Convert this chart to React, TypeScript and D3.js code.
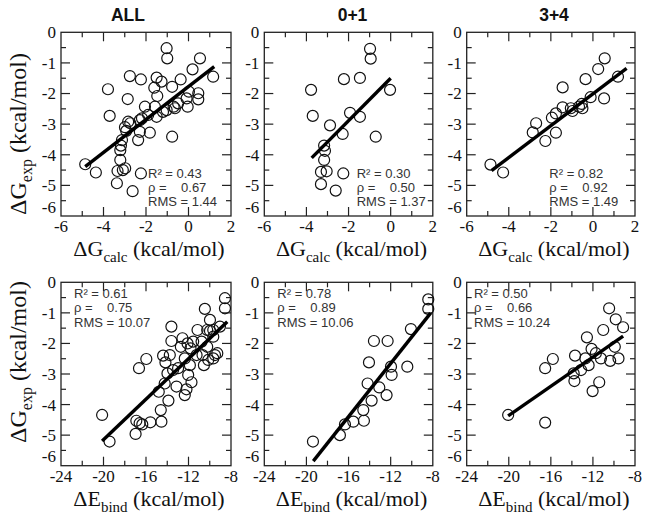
import React from 'react';
import * as d3 from 'd3';

// ---------- data ----------
const panelTitles = ['ALL', '0+1', '3+4'];

// Top row: ΔG_calc vs ΔG_exp
const topAllCalc = [-4.86, -4.36, -3.79, -3.71, -3.37, -3.34, -3.09, -2.98, -3.21, -3.21, -3.18, -3.13, -2.93, -2.99, -2.84, -2.63, -2.24, -2.29, -2.37, -1.82, -0.77, -2.76, -2.24, -2.86, -2.29, -2.05, -1.9, -1.5, -1.58, -1.03, -0.64, -0.49, -0.04, -0.09, 0.46, 0.46, 0.02, -0.77, -0.37, -1.47, -1.61, -1.27, -1.5, -1.03, -1.0, 0.54, 0.19, 1.16, -2.74, -2.19, -1.2, -0.7];
const topAllExp = [-4.31, -4.58, -1.86, -2.73, -4.93, -4.53, -4.5, -4.44, -4.17, -3.85, -3.7, -3.52, -3.22, -3.1, -2.92, -5.19, -4.61, -3.25, -3.52, -3.28, -3.41, -1.43, -1.54, -2.18, -2.87, -2.43, -2.7, -2.76, -2.43, -2.54, -2.48, -2.32, -2.43, -2.16, -2.19, -1.99, -1.94, -1.78, -1.54, -2.08, -1.81, -1.61, -1.48, -0.52, -0.85, -0.85, -1.21, -1.45, -2.97, -2.81, -2.6, -2.43];

const top01Calc = [-0.98, -0.95, -2.22, -1.46, -0.03, -3.78, -3.7, -1.93, -1.46, -2.88, -2.28, -0.71, -3.16, -3.12, -3.16, -3.31, -3.04, -2.25, -3.31, -2.61];
const top01Exp = [-0.54, -0.86, -1.53, -1.49, -1.88, -1.88, -2.73, -2.63, -2.76, -3.04, -3.32, -3.41, -3.7, -3.87, -4.17, -4.56, -4.54, -4.61, -4.96, -5.17];

const top34Calc = [-4.87, -4.27, -2.86, -2.7, -2.26, -1.76, -1.95, -1.76, -1.44, -1.44, -1.05, -0.97, -0.66, -0.5, -0.53, -0.35, -0.11, 0.25, 0.56, 1.19, 0.53];
const top34Exp = [-4.32, -4.58, -3.27, -2.97, -3.55, -3.28, -2.79, -2.65, -1.8, -2.45, -2.48, -2.57, -2.43, -2.48, -2.34, -1.53, -2.12, -1.2, -0.85, -1.45, -2.16];

// Bottom row: ΔE_bind vs ΔG_exp
const botAllBind = [-20.13, -19.43, -16.91, -16.98, -16.6, -16.35, -15.59, -16.66, -15.97, -14.55, -14.61, -14.8, -13.89, -14.24, -14.39, -14.17, -13.61, -13.61, -13.76, -13.98, -13.45, -13.13, -12.98, -12.57, -12.72, -12.35, -12.35, -12.19, -12.03, -11.72, -12.09, -11.81, -11.56, -11.87, -11.24, -11.15, -10.68, -10.55, -10.46, -9.98, -10.24, -9.98, -9.67, -9.67, -10.24, -9.51, -9.29, -9.67, -10.77, -10.14, -8.57, -8.57, -9.04];
const botAllExp = [-4.34, -5.21, -4.53, -4.96, -4.61, -4.65, -4.58, -2.81, -2.51, -4.56, -4.18, -3.58, -3.87, -3.31, -2.4, -2.62, -1.45, -1.92, -2.38, -2.98, -2.87, -3.41, -2.81, -1.83, -2.11, -2.49, -3.69, -3.5, -3.03, -3.27, -2.0, -2.16, -1.94, -2.71, -2.38, -1.56, -2.38, -2.71, -0.87, -1.23, -1.56, -1.59, -1.56, -1.78, -2.11, -2.38, -2.32, -2.49, -1.94, -2.54, -0.52, -0.85, -1.45];

const bot01Bind = [-19.38, -16.82, -16.34, -15.55, -14.54, -14.6, -13.81, -14.19, -13.08, -12.39, -14.06, -13.59, -12.29, -11.97, -11.91, -10.42, -10.08, -8.43, -8.43];
const bot01Exp = [-5.21, -5.0, -4.65, -4.56, -4.53, -4.18, -3.87, -3.31, -3.44, -3.69, -2.62, -1.92, -1.92, -2.76, -3.03, -2.76, -1.53, -0.56, -0.87];

const bot34Bind = [-20.06, -16.54, -15.81, -16.54, -13.7, -13.76, -13.83, -13.13, -12.72, -12.57, -12.41, -12.13, -12.03, -11.72, -11.4, -11.24, -11.02, -10.46, -10.36, -9.83, -9.92, -9.57, -9.13];
const bot34Exp = [-4.34, -2.81, -2.51, -4.59, -2.4, -3.23, -2.98, -2.87, -2.49, -1.8, -2.71, -2.18, -3.56, -2.32, -3.27, -2.49, -1.56, -0.85, -2.57, -1.21, -2.11, -2.49, -1.47];

// Regression lines: [xStart, xEnd], [yStart, yEnd]
const fitTopAllX = [-4.86, 1.21], fitTopAllY = [-4.39, -1.12];
const fitTop01X = [-3.75, 0.0], fitTop01Y = [-4.1, -1.5];
const fitTop34X = [-4.82, 1.6], fitTop34Y = [-4.52, -1.18];
const fitBotAllX = [-20.13, -8.35], fitBotAllY = [-5.19, -1.29];
const fitBot01X = [-19.35, -8.21], fitBot01Y = [-5.85, -1.01];
const fitBot34X = [-20.06, -9.13], fitBot34Y = [-4.37, -1.76];

// Statistics
const statR2 = [['0.43', '0.30', '0.82'], ['0.61', '0.78', '0.50']];
const statRho = [['0.67', '0.50', '0.92'], ['0.75', '0.89', '0.66']];
const statRMS = [['1.44', '1.37', '1.49'], ['10.07', '10.06', '10.24']];

// Axes
const yDomain = [-6, 0];
const yTickValues = [0, -1, -2, -3, -4, -5, -6];
const topXDomain = [-6, 2];
const topXTicks = [-6, -4, -2, 0, 2];
const botXDomain = [-24, -8];
const botXTicks = [-24, -20, -16, -12, -8];

// ---------- layout ----------
const W = 649, H = 519;
const colLeft = [61, 264.3, 466.7];
const colRight = [231, 432.8, 635];
const rowTop = [32.3, 282.3];
const rowBottom = [216, 465.7];
const statX = [[148, 356.7, 549.3], [74, 277.3, 474]];
const statBase = [[178, 192, 206], [298, 312.3, 326.7]];
const titleX = [128, 352.5, 554];
const yTitleCenter = [134, 362];

const SERIF = '"Liberation Serif", "Times New Roman", Times, serif';
const SANS = '"Liberation Sans", Arial, Helvetica, sans-serif';
const NB = '\u00a0';

type PanelDef = {
  row: number; col: number;
  xs: number[]; ys: number[];
  fx: number[]; fy: number[];
  xDomain: number[]; xTicks: number[]; xMajor: number; xMinor: number;
  xSym: string; xSub: string;
};

const topData = [
  [topAllCalc, topAllExp, fitTopAllX, fitTopAllY],
  [top01Calc, top01Exp, fitTop01X, fitTop01Y],
  [top34Calc, top34Exp, fitTop34X, fitTop34Y],
];
const botData = [
  [botAllBind, botAllExp, fitBotAllX, fitBotAllY],
  [bot01Bind, bot01Exp, fitBot01X, fitBot01Y],
  [bot34Bind, bot34Exp, fitBot34X, fitBot34Y],
];

const panels: PanelDef[] = [];
topData.forEach((d, i) => panels.push({ row: 0, col: i, xs: d[0], ys: d[1], fx: d[2], fy: d[3], xDomain: topXDomain, xTicks: topXTicks, xMajor: 2, xMinor: 1, xSym: 'ΔG', xSub: 'calc' }));
botData.forEach((d, i) => panels.push({ row: 1, col: i, xs: d[0], ys: d[1], fx: d[2], fy: d[3], xDomain: botXDomain, xTicks: botXTicks, xMajor: 4, xMinor: 2, xSym: 'ΔE', xSub: 'bind' }));

function Panel({ p }: { p: PanelDef }) {
  const left = colLeft[p.col], right = colRight[p.col];
  const top = rowTop[p.row], bottom = rowBottom[p.row];
  const x = d3.scaleLinear().domain(p.xDomain).range([left, right]);
  const y = d3.scaleLinear().domain(yDomain).range([bottom, top]);
  const eps = 1e-6;
  const xAll = d3.range(p.xDomain[0], p.xDomain[1] + eps, p.xMinor);
  const yAll = d3.range(yDomain[0], yDomain[1] + eps, 0.5);
  const isMajX = (v: number) => Math.abs(v / p.xMajor - Math.round(v / p.xMajor)) < eps;
  const isMajY = (v: number) => Math.abs(v - Math.round(v)) < eps;
  const MAJ = 9, MIN = 5;
  const tickStroke = '#222';
  const line = d3.line<number>().x((_, i) => x(p.fx[i])).y((_, i) => y(p.fy[i]));
  const cx = (left + right) / 2;
  const sx = statX[p.row][p.col];
  return (
    <g>
      {/* ticks */}
      {xAll.filter(v => v > p.xDomain[0] + eps && v < p.xDomain[1] - eps).map((v, i) => {
        const L = isMajX(v) ? MAJ : MIN;
        return (
          <g key={'xt' + i} stroke={tickStroke} strokeWidth={1.2}>
            <line x1={x(v)} x2={x(v)} y1={bottom} y2={bottom - L} />
            <line x1={x(v)} x2={x(v)} y1={top} y2={top + L} />
          </g>
        );
      })}
      {yAll.filter(v => v > yDomain[0] + eps && v < yDomain[1] - eps).map((v, i) => {
        const L = isMajY(v) ? MAJ : MIN;
        return (
          <g key={'yt' + i} stroke={tickStroke} strokeWidth={1.2}>
            <line x1={left} x2={left + L} y1={y(v)} y2={y(v)} />
            <line x1={right} x2={right - L} y1={y(v)} y2={y(v)} />
          </g>
        );
      })}
      {/* frame */}
      <rect x={left} y={top} width={right - left} height={bottom - top} fill="none" stroke="#222" strokeWidth={1.3} />
      {/* tick labels */}
      {p.xTicks.map(v => (
        <text key={'xl' + v} x={x(v)} y={bottom + 16} textAnchor="middle" fontFamily={SERIF} fontSize={17} fill="#111">{String(v)}</text>
      ))}
      {yTickValues.map(v => (
        <text key={'yl' + v} x={left - 5} y={y(v)} dy={v === -6 ? '-0.2em' : '0.35em'} textAnchor="end" fontFamily={SERIF} fontSize={17} fill="#111">{String(v)}</text>
      ))}
      {/* points */}
      {p.xs.map((v, i) => (
        <circle key={'c' + i} cx={x(v)} cy={y(p.ys[i])} r={5.5} fill="none" stroke="#111" strokeWidth={1.2} />
      ))}
      {/* regression line */}
      <path d={line([0, 1]) || ''} stroke="#000" strokeWidth={3.4} fill="none" />
      {/* stats */}
      <g fontFamily={SANS} fontSize={13} fill="#333">
        <text x={sx} y={statBase[p.row][0]}>{'R² = ' + statR2[p.row][p.col]}</text>
        <text x={sx} y={statBase[p.row][1]}>{'ρ =' + NB + NB + NB + ' ' + statRho[p.row][p.col]}</text>
        <text x={sx} y={statBase[p.row][2]}>{'RMS = ' + statRMS[p.row][p.col]}</text>
      </g>
      {/* x title */}
      <text x={cx + 3} y={bottom + 40} textAnchor="middle" fontFamily={SERIF} fontSize={22} fill="#111">
        {p.xSym}<tspan fontSize={15} dy={6}>{p.xSub}</tspan><tspan dy={-6}>{' (kcal/mol)'}</tspan>
      </text>
      {/* y title (left column only) */}
      {p.col === 0 && (
        <text transform={`translate(26,${yTitleCenter[p.row]}) rotate(-90)`} textAnchor="middle" fontFamily={SERIF} fontSize={24} fill="#111">
          {'ΔG'}<tspan fontSize={16} dy={6}>{'exp'}</tspan><tspan dy={-6}>{' (kcal/mol)'}</tspan>
        </text>
      )}
      {/* panel title */}
      {p.row === 0 && (
        <text x={titleX[p.col]} y={21} textAnchor="middle" fontFamily={SANS} fontWeight="bold" fontSize={17.5} fill="#111">{panelTitles[p.col]}</text>
      )}
    </g>
  );
}

export default function App() {
  return (
    <svg width={W} height={H} viewBox={`0 0 ${W} ${H}`} style={{ position: 'absolute', left: 0, top: 0, background: '#fff' }}>
      <rect x={0} y={0} width={W} height={H} fill="#fff" />
      {panels.map((p, i) => <Panel key={i} p={p} />)}
    </svg>
  );
}
